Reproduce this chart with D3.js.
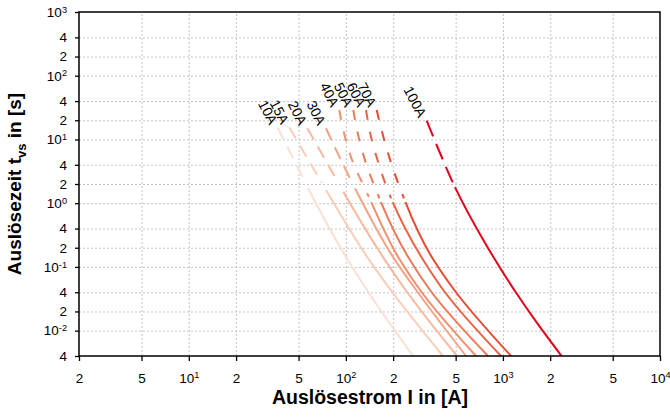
<!DOCTYPE html>
<html>
<head>
<meta charset="utf-8">
<script src="https://cdn.jsdelivr.net/npm/d3@7"></script>
<style>
  body { margin: 0; background: #fff; }
  svg { display: block; font-family: Arial, "Liberation Sans", sans-serif; }
  .grid line { stroke: #c4c4c4; stroke-dasharray: 2,2; }
  .grid .domain { display: none; }
  .axis .domain { display: none; }
  .axis line { stroke: #000; stroke-width: 1.3; }
  .axis text { fill: #000; font-size: 13.5px; }
</style>
</head>
<body>
<div id="chart"></div>
<script>
// fuse ratings and their trip curves, [current in A, time in s]
const ratings = ["10A", "15A", "20A", "30A", "40A", "50A", "60A", "70A", "100A"];

const c10A = [[36.8, 15.3], [45.8, 5.3], [57.4, 1.73], [103, 0.128], [136, 0.0434], [268, 0.004]];
const c15A = [[43.6, 15.5], [56.8, 5.1], [74.7, 1.61], [141, 0.128], [193, 0.0434], [415, 0.004]];
const c20A = [[56.8, 15.0], [73.6, 4.9], [96.3, 1.51], [177.5, 0.128], [240, 0.0434], [510, 0.004]];
const c30A = [[74.7, 15.0], [91.8, 5.1], [114.4, 1.71], [205.6, 0.128], [280, 0.0434], [582, 0.004]];
const c40A = [[90.8, 29.0], [98.7, 11.05], [111.5, 4.23], [132, 1.73], [221, 0.128], [296.5, 0.0434], [674, 0.004]];
const c50A = [[111.5, 29.0], [120.4, 11.05], [134.4, 4.23], [153.8, 1.73], [256, 0.128], [343, 0.0434], [803, 0.004]];
const c60A = [[134.4, 29.0], [144.6, 11.05], [161.4, 4.23], [182.8, 1.73], [311, 0.128], [417, 0.0434], [972, 0.004]];
const c70A = [[157.2, 29.0], [173.2, 11.05], [194.4, 4.23], [221.2, 1.73], [362, 0.128], [490, 0.0434], [1126, 0.004]];
const c100A = [[327, 19.7], [397.5, 6.13], [495, 1.79], [750, 0.265], [1181, 0.0434], [1648, 0.0132], [2360, 0.004]];

// dashed above dashEnd (s), solid below solidStart (s)
const dashEnd = [2.07, 2.1, 2.1, 2.1, 1.26, 1.19, 1.19, 1.19, 2.05];
const solidStart = [1.73, 1.61, 1.51, 1.71, 1.04, 1.04, 1.04, 1.04, 1.79];

const colors = ["#fbe0d3", "#f8cdb9", "#f5b9a0", "#f2a487", "#ef8f6f", "#ec7a59", "#e96446", "#e64b33", "#e2001a"];

const xTicks = [2, 5, 10, 20, 50, 100, 200, 500, 1000, 2000, 5000, 10000];
const xTickLabels = ["2", "5", "10^1", "2", "5", "10^2", "2", "5", "10^3", "2", "5", "10^4"];
const yTicks = [1000, 400, 200, 100, 40, 20, 10, 4, 2, 1, 0.4, 0.2, 0.1, 0.04, 0.02, 0.01, 0.004];
const yTickLabels = ["10^3", "4", "2", "10^2", "4", "2", "10^1", "4", "2", "10^0", "4", "2", "10^-1", "4", "2", "10^-2", "4"];

const curves = [c10A, c15A, c20A, c30A, c40A, c50A, c60A, c70A, c100A];

const width = 670;
const height = 419;
const margin = { top: 12, right: 10, bottom: 63, left: 79 };
const plot = {
    left: margin.left,
    right: width - margin.right,
    top: margin.top,
    bottom: height - margin.bottom
};

const svg = d3.select("#chart")
    .append("svg")
    .attr("width", width)
    .attr("height", height);

svg.append("rect").attr("width", width).attr("height", height).attr("fill", "#fff");

const xScale = d3.scaleLog().domain([2, 10000]).range([plot.left, plot.right]);
const yScale = d3.scaleLog().domain([0.004, 1000]).range([plot.bottom, plot.top]);

// gridlines
svg.append("g")
    .attr("class", "grid")
    .attr("transform", `translate(${plot.left},0)`)
    .call(d3.axisLeft(yScale).tickValues(yTicks.slice(1, -1)).tickFormat("").tickSize(-(plot.right - plot.left)));

svg.append("g")
    .attr("class", "grid")
    .attr("transform", `translate(0,${plot.bottom})`)
    .call(d3.axisBottom(xScale).tickValues(xTicks.slice(1, -1)).tickFormat("").tickSize(-(plot.bottom - plot.top)));

// superscript labels like 10^3
function supLabels(sel, labels) {
    sel.selectAll(".tick text").each(function (d, i) {
        const el = d3.select(this);
        const lab = labels[i];
        el.text(null);
        if (lab.includes("^")) {
            const [b, e] = lab.split("^");
            el.append("tspan").text(b);
            el.append("tspan").attr("dy", "-0.45em").attr("font-size", "0.68em").text(e);
        } else {
            el.text(lab);
        }
    });
}

const yAxis = svg.append("g")
    .attr("class", "axis")
    .attr("transform", `translate(${plot.left},0)`)
    .call(d3.axisLeft(yScale).tickValues(yTicks).tickSize(4).tickPadding(8));
supLabels(yAxis, yTickLabels);

const xAxis = svg.append("g")
    .attr("class", "axis")
    .attr("transform", `translate(0,${plot.bottom})`)
    .call(d3.axisBottom(xScale).tickValues(xTicks).tickSize(5).tickPadding(12));
supLabels(xAxis, xTickLabels);

// curves: x as a smooth function of y
const line = d3.line()
    .x(d => xScale(d[0]))
    .y(d => yScale(d[1]))
    .curve(d3.curveMonotoneY);

function lengthAtY(node, yTarget) {
    let lo = 0, hi = node.getTotalLength();
    for (let k = 0; k < 40; k++) {
        const mid = (lo + hi) / 2;
        if (node.getPointAtLength(mid).y < yTarget) lo = mid; else hi = mid;
    }
    return lo;
}

curves.forEach((pts, i) => {
    const path = svg.append("path")
        .attr("d", line(pts))
        .attr("fill", "none")
        .attr("stroke", colors[i])
        .attr("stroke-width", 2);

    const node = path.node();
    const L = node.getTotalLength();
    const L1 = lengthAtY(node, yScale(dashEnd[i]));
    const L2 = Math.max(L1, lengthAtY(node, yScale(solidStart[i])));
    const pat = i < 4 ? [13, 8] : (i < 8 ? [10, 12] : [17, 8]);

    const arr = [];
    let pos = 0, on = true;
    while (pos < L1 - 0.01) {
        const s = Math.min(on ? pat[0] : pat[1], L1 - pos);
        arr.push(s);
        pos += s;
        on = !on;
    }
    if (on) arr[arr.length - 1] += (L2 - L1);
    else arr.push(L2 - L1);
    arr.push(L - L2 + 10);
    path.attr("stroke-dasharray", arr.map(v => v.toFixed(2)).join(","));

    // rating label above the top of each curve
    const x0 = xScale(pts[0][0]);
    const y0 = yScale(pts[0][1]);
    svg.append("text")
        .attr("transform", `translate(${x0 - 8.5},${y0 - 2}) rotate(63)`)
        .attr("text-anchor", "end")
        .attr("font-size", 14)
        .attr("fill", "#000")
        .text(ratings[i]);
});

// frame
svg.append("rect")
    .attr("x", plot.left)
    .attr("y", plot.top)
    .attr("width", plot.right - plot.left)
    .attr("height", plot.bottom - plot.top)
    .attr("fill", "none")
    .attr("stroke", "#000")
    .attr("stroke-width", 1.5);

// axis titles
svg.append("text")
    .attr("x", (plot.left + plot.right) / 2 + 0.5)
    .attr("y", 404)
    .attr("text-anchor", "middle")
    .attr("font-weight", "bold")
    .attr("font-size", 19.5)
    .text("Auslösestrom I in [A]");

const yTitle = svg.append("text")
    .attr("transform", "translate(20.5,184) rotate(-90)")
    .attr("text-anchor", "middle")
    .attr("font-weight", "bold")
    .attr("font-size", 19);
yTitle.append("tspan").text("Auslösezeit t");
yTitle.append("tspan").attr("dy", 5).attr("font-size", 13).text("vs");
yTitle.append("tspan").attr("dy", -5).text(" in [s]");
</script>
</body>
</html>
